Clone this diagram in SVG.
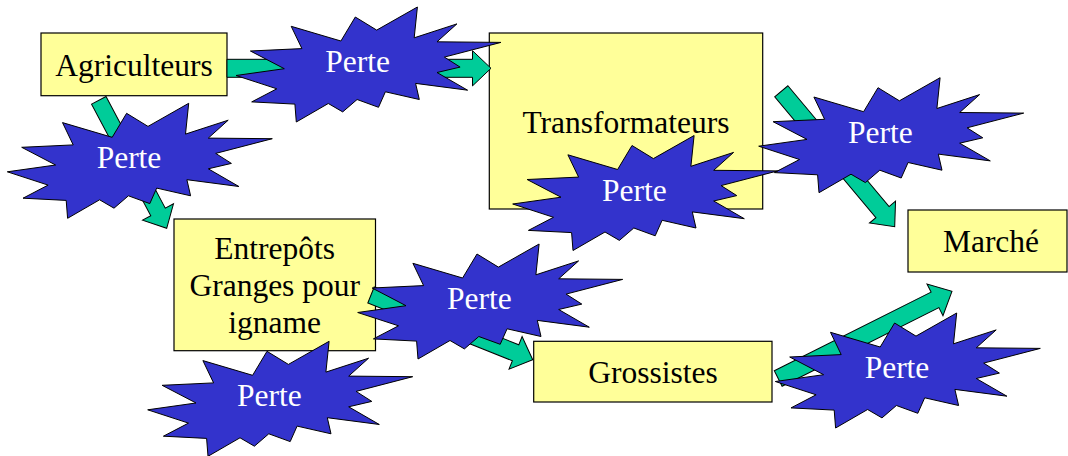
<svg xmlns="http://www.w3.org/2000/svg" xmlns:xlink="http://www.w3.org/1999/xlink" width="1068" height="456" viewBox="0 0 1068 456">
  <style>
    .box { fill: #FFFF99; stroke: #000; stroke-width: 1.2; }
    .label { font-family: "Liberation Serif", "Times New Roman", serif; font-size: 31.5px; fill: #000; text-anchor: middle; }
    .loss { fill: #3333CC; stroke: #000; stroke-width: 1; stroke-linejoin: miter; }
    .loss-text { font-family: "Liberation Serif", "Times New Roman", serif; font-size: 31.5px; fill: #FFF; text-anchor: middle; }
    .flow { fill: #00CC99; stroke: #000; stroke-width: 1; stroke-linejoin: miter; }
  </style>
  <defs>
    <!-- explosion burst, 265 x 115 -->
    <path id="burst" d="M181.4,0 L178.2,30.8 L220.9,16.9 L201,34.8 L265,35.4 L208.4,50.1 L224.1,60.1 L201,65.5 L231.6,83.2 L179.6,76.4 L183.3,92.5 L149.4,84.8 L142.5,100.3 L121.1,92.5 L106.7,104.9 L92.3,96.5 L60.3,115 L58.9,97.1 L15.7,94.9 L40.8,81.8 L0,68.5 L48.3,61.7 L14.4,44 L65.9,41.6 L55.2,19.3 L104.9,34 L119.3,10 L140.7,23.1 Z"/>
  </defs>

  <rect width="1068" height="456" fill="#FFFFFF"/>

  <!-- stages -->
  <g id="agriculteurs">
    <rect class="box" x="41" y="33" width="186" height="62.7"/>
    <text class="label" x="134" y="75.7">Agriculteurs</text>
  </g>
  <g id="transformateurs">
    <rect class="box" x="489.3" y="33" width="273.4" height="176"/>
    <text class="label" x="626" y="132.7">Transformateurs</text>
  </g>
  <g id="entrepots">
    <rect class="box" x="174" y="219" width="201.5" height="131.7"/>
    <text class="label" x="274.7" y="259">Entrepôts</text>
    <text class="label" x="274.7" y="295.7">Granges pour</text>
    <text class="label" x="274.7" y="333">igname</text>
  </g>
  <g id="grossistes">
    <rect class="box" x="533.7" y="341.3" width="238.3" height="60.7"/>
    <text class="label" x="652.9" y="383">Grossistes</text>
  </g>
  <g id="marche">
    <rect class="box" x="908" y="210" width="159" height="62"/>
    <text class="label" x="991" y="252.3">Marché</text>
  </g>

  <!-- flows between stages -->
  <g id="connectors">
    <path class="flow" transform="translate(227,68.3)" d="M0,-9 L245.5,-9 L245.5,-17.6 L264,0 L245.5,17.6 L245.5,9 L0,9 Z"/>
    <path class="flow" transform="translate(98.8,100.3) rotate(62.06)" d="M0,-8.2 L126.4,-8.2 L126.4,-17.5 L144.9,0 L126.4,17.5 L126.4,8.2 L0,8.2 Z"/>
    <path class="flow" transform="translate(781.3,91.3) rotate(50.05)" d="M0,-8.6 L157.6,-8.6 L157.6,-17 L176.6,0 L157.6,17 L157.6,8.6 L0,8.6 Z"/>
    <path class="flow" transform="translate(371,295) rotate(21.8)" d="M0,-8.6 L155.7,-8.6 L155.7,-17.6 L174.2,0 L155.7,17.6 L155.7,8.6 L0,8.6 Z"/>
    <path class="flow" transform="translate(778.2,378.5) rotate(-26.64)" d="M0,-8.7 L175.4,-8.7 L175.4,-17.8 L194.4,0 L175.4,17.8 L175.4,8.7 L0,8.7 Z"/>
  </g>

  <!-- losses along the chain -->
  <g id="perte-agri-transfo" transform="translate(236,7)">
    <use class="loss" xlink:href="#burst" href="#burst"/>
    <text class="loss-text" x="121.7" y="65">Perte</text>
  </g>
  <g id="perte-agri-entrepots" transform="translate(7.3,103.3)">
    <use class="loss" xlink:href="#burst" href="#burst"/>
    <text class="loss-text" x="121.7" y="65">Perte</text>
  </g>
  <g id="perte-transfo-marche" transform="translate(758.7,77.7)">
    <use class="loss" xlink:href="#burst" href="#burst"/>
    <text class="loss-text" x="121.7" y="65">Perte</text>
  </g>
  <g id="perte-transfo" transform="translate(512.7,135.5)">
    <use class="loss" xlink:href="#burst" href="#burst"/>
    <text class="loss-text" x="121.7" y="65">Perte</text>
  </g>
  <g id="perte-stockage" transform="translate(147.7,341.3)">
    <use class="loss" xlink:href="#burst" href="#burst"/>
    <text class="loss-text" x="121.7" y="65">Perte</text>
  </g>
  <g id="perte-entrepots-grossistes" transform="translate(357.7,244)">
    <use class="loss" xlink:href="#burst" href="#burst"/>
    <text class="loss-text" x="121.7" y="65">Perte</text>
  </g>
  <g id="perte-grossistes-marche" transform="translate(775.3,313)">
    <use class="loss" xlink:href="#burst" href="#burst"/>
    <text class="loss-text" x="121.7" y="65">Perte</text>
  </g>
</svg>
